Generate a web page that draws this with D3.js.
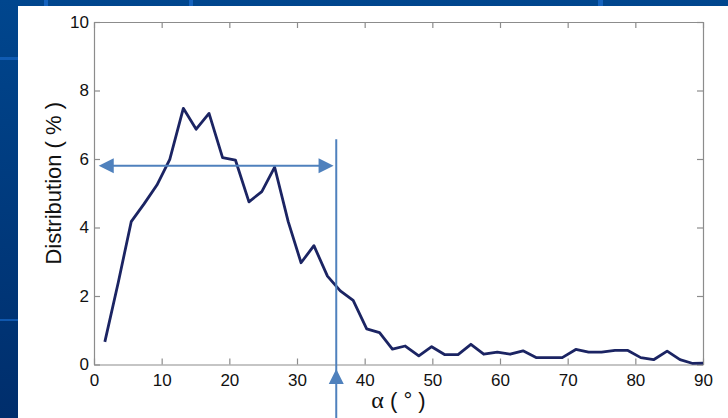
<!DOCTYPE html>
<html>
<head>
<meta charset="utf-8">
<script src="https://cdn.jsdelivr.net/npm/d3@7"></script>
<style>
  html, body { margin: 0; padding: 0; background: #003c80; }
  svg { display: block; }
</style>
</head>
<body>
<svg id="chart" width="728" height="418"></svg>
<script>
// ---- data ----
const angles = [1.6, 3.6, 5.5, 7.4, 9.3, 11.2, 13.2, 15.1, 17.0, 19.0, 20.9, 22.9, 24.8, 26.7, 28.7, 30.6,
  32.5, 34.5, 36.4, 38.3, 40.3, 42.2, 44.1, 46.0, 48.0, 49.9, 51.8, 53.8, 55.7, 57.6, 59.6, 61.5,
  63.4, 65.4, 67.3, 69.2, 71.2, 73.1, 75.0, 77.0, 78.9, 80.8, 82.7, 84.7, 86.6, 88.5, 90.0];
const distribution = [0.66, 2.41, 4.17, 4.69, 5.24, 5.99, 7.48, 6.87, 7.33, 6.04, 5.97, 4.75, 5.05, 5.76, 4.17, 2.97,
  3.47, 2.58, 2.15, 1.87, 1.04, 0.93, 0.45, 0.54, 0.25, 0.52, 0.29, 0.29, 0.59, 0.30, 0.36, 0.30,
  0.40, 0.20, 0.20, 0.20, 0.44, 0.36, 0.36, 0.41, 0.41, 0.20, 0.14, 0.39, 0.14, 0.03, 0.04];
const xTicks = [0, 10, 20, 30, 40, 50, 60, 70, 80, 90];
const yTicks = [0, 2, 4, 6, 8, 10];
const xTitleSymbol = "α";
const xTitleRest = " ( ° )";
const yTitle = "Distribution ( % )";
// annotation (data units)
const spanY = 5.8;          // horizontal double arrow level
const spanX = [0.7, 35.4];  // arrow tips
const cutoff = 35.8;        // vertical marker line
const cutoffTop = 6.58;
const cutoffTip = -0.13;

// ---- drawing ----
const svg = d3.select("#chart");
const W = 728, H = 418;

// slide background
const defs = svg.append("defs");
const grad = defs.append("linearGradient").attr("id", "bg").attr("x1", 0).attr("y1", 0).attr("x2", 0).attr("y2", 1);
grad.append("stop").attr("offset", "0%").attr("stop-color", "#00468e");
grad.append("stop").attr("offset", "100%").attr("stop-color", "#002e6c");
svg.append("rect").attr("width", W).attr("height", H).attr("fill", "url(#bg)");
// faint tile lines of the slide background
const gridCol = "#1462bd";
[[44, 0, 4, 6], [189, 0, 4, 6], [598, 0, 5, 6]].forEach(r =>
  svg.append("rect").attr("x", r[0]).attr("y", r[1]).attr("width", r[2]).attr("height", r[3]).attr("fill", gridCol));
[[0, 57, 18, 3], [0, 319, 18, 2]].forEach(r =>
  svg.append("rect").attr("x", r[0]).attr("y", r[1]).attr("width", r[2]).attr("height", r[3]).attr("fill", gridCol).attr("opacity", 0.8));

// white picture panel
svg.append("rect").attr("x", 18).attr("y", 6).attr("width", W - 18).attr("height", H - 6).attr("fill", "#ffffff");

const x = d3.scaleLinear().domain([0, 90]).range([94, 703]);
const y = d3.scaleLinear().domain([0, 10]).range([364.5, 22]);

const axisCol = "#8c8c8c";
const font = "Arial, 'Liberation Sans', Helvetica, sans-serif";

function styleAxis(g) {
  g.selectAll("path").attr("stroke", axisCol).attr("stroke-width", 1.2);
  g.selectAll("line").attr("stroke", axisCol).attr("stroke-width", 1.2);
  g.selectAll("text").attr("fill", "#111").style("font-family", font).style("font-size", "17px");
}

svg.append("g").attr("transform", `translate(0,${y(0)})`)
  .call(d3.axisBottom(x).tickValues(xTicks).tickSizeInner(-6).tickSizeOuter(0).tickPadding(9).tickFormat(d3.format("d")))
  .call(styleAxis);
svg.append("g").attr("transform", `translate(0,${y(10)})`)
  .call(d3.axisTop(x).tickValues(xTicks).tickSizeInner(-6).tickSizeOuter(0).tickFormat(""))
  .call(styleAxis);
svg.append("g").attr("transform", `translate(${x(0)},0)`)
  .call(d3.axisLeft(y).tickValues(yTicks).tickSizeInner(-6).tickSizeOuter(0).tickPadding(5).tickFormat(d3.format("d")))
  .call(styleAxis);
svg.append("g").attr("transform", `translate(${x(90)},0)`)
  .call(d3.axisRight(y).tickValues(yTicks).tickSizeInner(-6).tickSizeOuter(0).tickFormat(""))
  .call(styleAxis);

// data line
const pts = angles.map((a, i) => [a, distribution[i]]);
svg.append("path")
  .datum(pts)
  .attr("fill", "none")
  .attr("stroke", "#1b2463")
  .attr("stroke-width", 2.8)
  .attr("stroke-linejoin", "round")
  .attr("d", d3.line().x(d => x(d[0])).y(d => y(d[1])));

// annotations
const annCol = "#4f81bd";
const ay = y(spanY);
const ah = 15, aw = 7.5;
svg.append("line")
  .attr("x1", x(spanX[0]) + 5).attr("x2", x(spanX[1]) - 5)
  .attr("y1", ay).attr("y2", ay)
  .attr("stroke", annCol).attr("stroke-width", 2);
svg.append("path").attr("fill", annCol)
  .attr("d", `M${x(spanX[0])},${ay} L${x(spanX[0]) + ah},${ay - aw} L${x(spanX[0]) + ah},${ay + aw} Z`);
svg.append("path").attr("fill", annCol)
  .attr("d", `M${x(spanX[1])},${ay} L${x(spanX[1]) - ah},${ay - aw} L${x(spanX[1]) - ah},${ay + aw} Z`);

const vx = x(cutoff);
svg.append("line")
  .attr("x1", vx).attr("x2", vx)
  .attr("y1", y(cutoffTop)).attr("y2", H)
  .attr("stroke", annCol).attr("stroke-width", 2);
const ty = y(cutoffTip);
svg.append("path").attr("fill", annCol)
  .attr("d", `M${vx},${ty} L${vx - aw},${ty + ah} L${vx + aw},${ty + ah} Z`);

// titles
const xt = svg.append("text")
  .attr("x", x(45)).attr("y", 408)
  .attr("text-anchor", "middle")
  .attr("fill", "#111")
  .style("font-family", font).style("font-size", "22px");
xt.append("tspan").style("font-family", "'Liberation Serif', 'DejaVu Serif', serif").style("font-size", "24px").text(xTitleSymbol);
xt.append("tspan").attr("xml:space", "preserve").style("white-space", "pre").text(xTitleRest);
svg.append("text")
  .attr("transform", `translate(61,${(y(0) + y(10)) / 2 - 10}) rotate(-90)`)
  .attr("text-anchor", "middle")
  .attr("fill", "#111")
  .style("font-family", font).style("font-size", "22px")
  .text(yTitle);
</script>
</body>
</html>
